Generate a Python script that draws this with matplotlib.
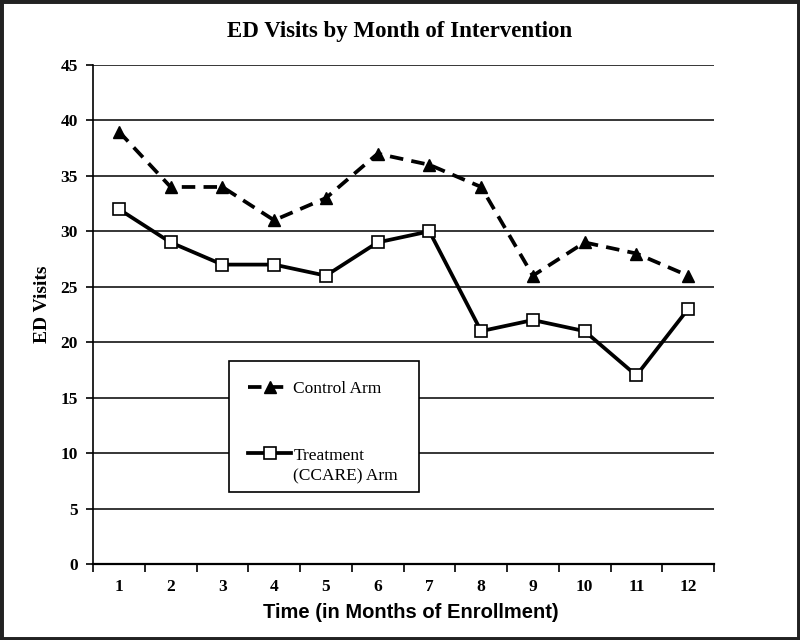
import matplotlib
matplotlib.use("Agg")
import matplotlib.pyplot as plt
from matplotlib.patches import Rectangle
from matplotlib.legend_handler import HandlerLine2D

months = ["1", "2", "3", "4", "5", "6", "7", "8", "9", "10", "11", "12"]
control = [39, 34, 34, 31, 33, 37, 36, 34, 26, 29, 28, 26]
treatment = [32, 29, 27, 27, 26, 29, 30, 21, 22, 21, 17, 23]
yticks = [0, 5, 10, 15, 20, 25, 30, 35, 40, 45]


class ShiftedHandler(HandlerLine2D):
    def __init__(self, shift=0.0, **kw):
        super().__init__(**kw)
        self.shift = shift

    def create_artists(self, legend, orig_handle, xdescent, ydescent, width,
                       height, fontsize, trans):
        return super().create_artists(legend, orig_handle, xdescent,
                                      ydescent - self.shift, width, height,
                                      fontsize, trans)


fig = plt.figure(figsize=(8, 6.4), dpi=100)
ax = fig.add_axes([93/800, 1-564/640, 621/800, 499/640])

x = list(range(1, len(months)+1))
l1, = ax.plot(x, control, color="black", lw=2.7, ls=(0, (3.6, 2.2)), marker="^",
              ms=8, mfc="black", mec="black", label="Control Arm", zorder=3)
l2, = ax.plot(x, treatment, color="black", lw=2.7, marker="s", ms=8.5,
              mfc="white", mec="black", mew=1.2, label="Treatment\n(CCARE) Arm",
              zorder=3)

ax.set_xlim(0.5, 12.5)
ax.set_ylim(0, 45)
ax.set_yticks(yticks)
ax.set_xticks(x)
ax.set_xticklabels(months)
ax.set_xticks([i + 0.5 for i in range(0, 13)], minor=True)
ax.tick_params(axis="x", which="major", length=0, pad=11)
ax.tick_params(axis="x", which="minor", length=6, width=1.2, direction="out")
ax.tick_params(axis="y", length=5, width=1.2, direction="out", pad=6)
for lab in ax.get_xticklabels() + ax.get_yticklabels():
    lab.set_fontfamily("Liberation Serif")
    lab.set_fontweight("bold")
    lab.set_fontsize(12.5)

ax.grid(axis="y", color="black", lw=1.1)
ax.set_axisbelow(True)
for s in ["top", "right"]:
    ax.spines[s].set_visible(False)
ax.spines["left"].set_linewidth(1.2)
ax.spines["bottom"].set_linewidth(1.6)

ax.set_ylabel("ED Visits", fontfamily="Liberation Serif", fontweight="bold",
              fontsize=14)
ax.yaxis.set_label_coords(-0.067, 0.52)
ax.set_xlabel("Time (in Months of Enrollment)", fontfamily="Liberation Sans",
              fontweight="bold", fontsize=14.5)
ax.xaxis.set_label_coords(0.512, -0.078)
fig.text(400/800, 1-32/640, "ED Visits by Month of Intervention",
         fontfamily="Liberation Serif", fontweight="bold", fontsize=16.5,
         ha="center", va="center")

# legend box
ax.add_patch(Rectangle((0.219, 0.144), 0.306, 0.263, transform=ax.transAxes,
                       facecolor="white", edgecolor="black", lw=1.2, zorder=4))
leg = ax.legend(handles=[l1, l2], loc="upper left", bbox_to_anchor=(0.219, 0.405),
                frameon=False,
                prop={"family": "Liberation Serif", "size": 12.5},
                handlelength=2.5, handletextpad=0.1, labelspacing=2.95,
                borderpad=1.1, borderaxespad=0,
                handler_map={l2: ShiftedHandler(shift=20)})
leg.set_zorder(5)
leg.get_texts()[1].set_linespacing(1.35)

fig.patches.append(Rectangle((0, 0), 1, 1, transform=fig.transFigure,
                             fill=False, edgecolor="#222222", lw=5))

fig.savefig("out.png", dpi=100)
